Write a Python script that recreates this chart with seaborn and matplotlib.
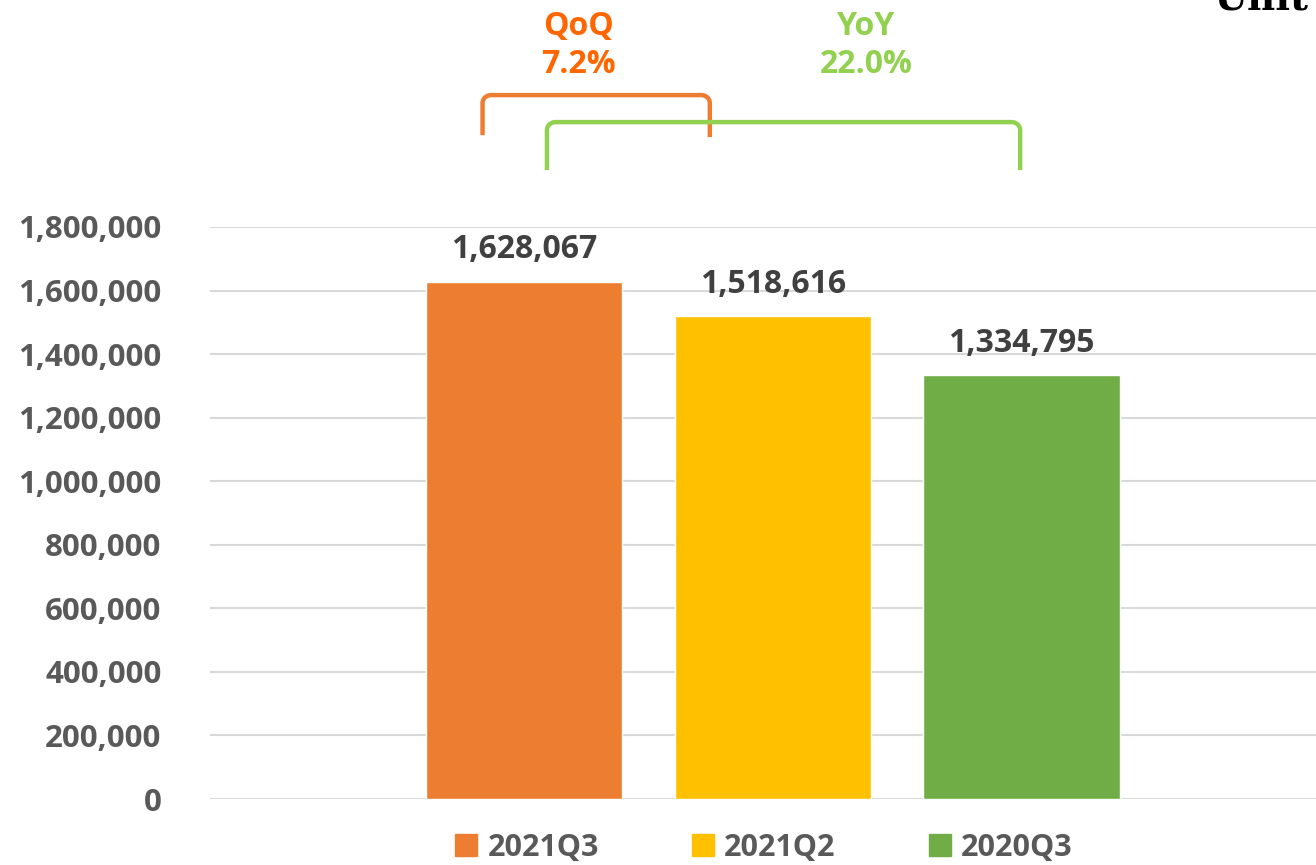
import numpy as np
import pandas as pd
import seaborn as sns
import matplotlib.pyplot as plt
from matplotlib.lines import Line2D

# data
series = ['2021Q3', '2021Q2', '2020Q3']
values = [1628067, 1518616, 1334795]
colors = ['#ED7D31', '#FFC000', '#70AD47']
qoq_label = 'QoQ\n7.2%'
yoy_label = 'YoY\n22.0%'

df = pd.DataFrame({'cat': ['A'] * 3, 'series': series, 'value': values})

sns.set_style('white')
plt.rcParams['font.family'] = ['Open Sans', 'DejaVu Sans']
plt.rcParams['font.weight'] = 'bold'

fig = plt.figure(figsize=(13.16, 8.65), dpi=100)
ax = fig.add_axes([0.1596, 0.0763, 0.8404, 0.6613])

sns.barplot(df, x='cat', y='value', hue='series', palette=colors,
            width=0.8, gap=0.21, ax=ax, legend=False, saturation=1)

ax.set_ylim(0, 1800000)
ax.set_xlim(-0.603, 0.582)
ax.set_yticks(np.arange(0, 1800001, 200000))
ax.set_yticklabels([f'{v:,}' for v in range(0, 1800001, 200000)],
                   fontsize=22.5, color='#595959', fontweight='bold')
ax.set_xticks([])
ax.set_xlabel('')
ax.set_ylabel('')
ax.tick_params(axis='y', length=0, pad=35)
ax.yaxis.grid(True, color='#D9D9D9', linewidth=1.5)
ax.set_axisbelow(True)
for s in ax.spines.values():
    s.set_visible(False)

# data labels
for c in ax.containers:
    ax.bar_label(c, labels=[f'{int(v):,}' for v in c.datavalues],
                 padding=11, fontsize=23, color='#404040', fontweight='bold')


def bracket(x0, x1, ylow_l, ylow_r, ytop, color, r=0.009, rv=25000):
    th = np.linspace(0, np.pi / 2, 10)
    left_x = x0 + r - r * np.cos(th)
    left_y = ytop - rv + rv * np.sin(th)
    right_x = x1 - r + r * np.sin(th)
    right_y = ytop - rv + rv * np.cos(th)
    xs = np.concatenate([[x0], left_x, right_x, [x1]])
    ys = np.concatenate([[ylow_l], left_y, right_y, [ylow_r]])
    ax.plot(xs, ys, color=color, lw=3.2, clip_on=False, solid_capstyle='butt')


bracket(-0.311, -0.0675, 2089000, 2083000, 2215000, '#ED7D31')
bracket(-0.242, 0.265, 1979000, 1979000, 2130000, '#92D050')

ax.text(-0.208, 2372000, qoq_label, ha='center', va='center', fontsize=23,
        color='#FF6600', fontweight='bold', linespacing=1.2)
ax.text(0.100, 2372000, yoy_label, ha='center', va='center', fontsize=23,
        color='#92D050', fontweight='bold', linespacing=1.2)

fig.text(0.922, 1.002, 'Unit', ha='left', va='center', fontsize=28,
         family='DejaVu Serif', fontweight='bold', color='black')

handles = [Line2D([], [], marker='s', linestyle='', markersize=16.5,
                  markerfacecolor=c, markeredgecolor=c) for c in colors]
fig.legend(handles, series, loc='center', bbox_to_anchor=(0.580, 0.0197),
           ncol=3, frameon=False, handletextpad=0.3, handlelength=0.8,
           columnspacing=3.0, labelcolor='#595959',
           prop={'weight': 'bold', 'size': 22})

fig.savefig('out.png', dpi=100)
